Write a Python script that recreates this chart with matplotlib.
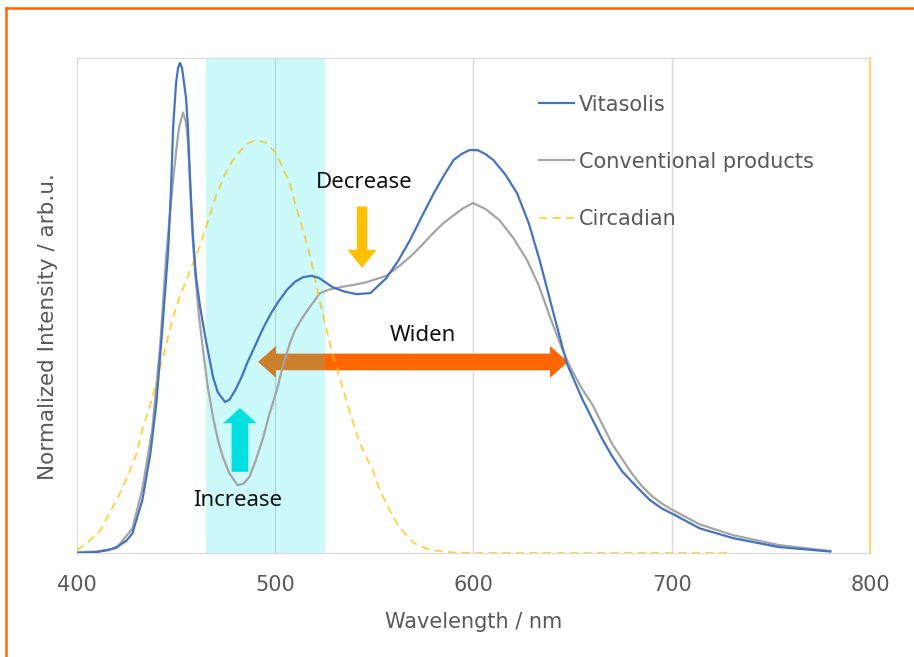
import matplotlib

matplotlib.use("Agg")

import matplotlib.pyplot as plt
from matplotlib.patches import FancyArrowPatch
from matplotlib.lines import Line2D

# spectra (normalized)
vita_nm = [400, 410, 416, 420, 425, 428, 433, 437, 440, 443, 446, 447.5, 448.5, 450,
           451, 452, 453, 454, 455, 456, 457, 458.5, 460, 462, 465, 468.6, 471, 474.7,
           477, 480, 483, 486, 490, 494, 498, 502, 506, 510, 514, 518, 522, 526,
           529, 535, 541, 548, 556, 562, 568, 574, 580, 585, 590, 594, 598, 602, 606,
           610, 616, 622, 628, 633.5, 640, 647, 655, 660, 665, 670, 675, 682, 689, 695,
           700, 714, 731, 754, 780]
vita_val = [0.0, 0.002, 0.006, 0.012, 0.025, 0.04, 0.107, 0.2, 0.3, 0.45, 0.61, 0.74,
            0.86, 0.95, 0.98, 0.99, 0.98, 0.95, 0.92, 0.86, 0.76, 0.64, 0.56, 0.5, 0.43,
            0.356, 0.325, 0.305, 0.31, 0.33, 0.355, 0.385, 0.42, 0.455, 0.485, 0.51,
            0.532, 0.548, 0.557, 0.56, 0.556, 0.545, 0.537, 0.528, 0.523, 0.525, 0.555,
            0.59, 0.632, 0.68, 0.727, 0.762, 0.794, 0.806, 0.814, 0.814, 0.806, 0.794,
            0.765, 0.727, 0.665, 0.59, 0.49, 0.384, 0.31, 0.27, 0.23, 0.195, 0.165,
            0.135, 0.107, 0.09, 0.08, 0.05, 0.03, 0.012, 0.003]

conv_nm = [400, 410, 420, 428, 433, 438, 442, 445, 448.4, 450, 451.5, 453.5, 455, 456,
           457, 458, 459.5, 461.5, 463.6, 466, 468.6, 471, 473.6, 477, 481, 484, 487,
           490, 494, 497, 500.9, 504, 507.4, 510, 514, 518, 522.6, 527, 532.7, 540, 546,
           556, 562, 568, 574, 579.6, 585, 591.6, 595, 599.8, 606, 613, 620, 627, 633,
           638.6, 644, 648.7, 655, 660, 665, 670, 675, 680, 685, 690, 695, 700, 714,
           731, 754, 780]
conv_val = [0.002, 0.003, 0.01, 0.05, 0.13, 0.25, 0.42, 0.6, 0.75, 0.81, 0.86, 0.89,
            0.87, 0.83, 0.75, 0.66, 0.57, 0.48, 0.41, 0.335, 0.275, 0.23, 0.194, 0.16,
            0.137, 0.14, 0.154, 0.185, 0.234, 0.28, 0.33, 0.38, 0.424, 0.45, 0.477, 0.50,
            0.525, 0.532, 0.537, 0.542, 0.547, 0.56, 0.578, 0.598, 0.622, 0.646, 0.667,
            0.687, 0.697, 0.707, 0.695, 0.673, 0.637, 0.592, 0.54, 0.477, 0.42, 0.376,
            0.33, 0.30, 0.26, 0.22, 0.19, 0.16, 0.135, 0.115, 0.1, 0.088, 0.058, 0.036,
            0.016, 0.004]

circ_nm = [400, 405, 412, 415, 420, 425, 430, 433, 437, 441, 445, 448, 452, 457, 462,
           466, 470, 474, 478, 482, 485, 490, 495, 500, 503, 507, 512, 517, 520, 523,
           526, 529, 532, 535, 538, 542, 545, 549, 552, 556, 560, 563, 570, 578, 590,
           600, 650, 700, 730]
circ_val = [0.006, 0.02, 0.046, 0.07, 0.107, 0.15, 0.2, 0.25, 0.3, 0.36, 0.42, 0.47,
            0.52, 0.57, 0.62, 0.67, 0.72, 0.76, 0.79, 0.81, 0.825, 0.834, 0.83, 0.81,
            0.785, 0.75, 0.68, 0.61, 0.555, 0.5, 0.45, 0.4, 0.36, 0.32, 0.28, 0.23,
            0.2, 0.17, 0.135, 0.1, 0.07, 0.05, 0.02, 0.006, 0.001, 0.0, 0.0, 0.0, 0.0]

series_labels = ["Vitasolis", "Conventional products", "Circadian"]
x_ticks = [400, 500, 600, 700, 800]
band = (465, 525)

TXT = "#595959"

fig = plt.figure(figsize=(9.14, 6.57), dpi=100)
ax = fig.add_axes([0.0842, 0.1583, 0.8676, 0.7534])

ax.axvspan(band[0], band[1], color="#00E5E5", alpha=0.2, lw=0, zorder=2)

ax.plot(vita_nm, vita_val, color="#4472C4", lw=1.6, label=series_labels[0], zorder=4)
ax.plot(conv_nm, conv_val, color="#A5A5A5", lw=1.6, label=series_labels[1], zorder=3)
ax.plot(circ_nm, circ_val, color="#FFC000", lw=1.3, ls=(0, (4.5, 3)), alpha=0.75,
        label=series_labels[2], zorder=3)

ax.set_xlim(400, 800)
ax.set_ylim(0, 1)
ax.set_xticks(x_ticks)
ax.set_yticks([])
ax.tick_params(axis="x", length=0, pad=16, labelsize=15, labelcolor=TXT)
for v in x_ticks[1:-1]:
    ax.axvline(v, color="#D9D9D9", lw=1, zorder=1)
for s in ["left", "top", "bottom"]:
    ax.spines[s].set_color("#D9D9D9")
ax.spines["right"].set_color("#FFD966")
ax.spines["right"].set_linewidth(1.5)

ax.set_xlabel("Wavelength / nm", fontsize=15, color=TXT, labelpad=12)
ax.set_ylabel("Normalized Intensity / arb.u.", fontsize=15.5, color=TXT)
ax.yaxis.set_label_coords(-0.024, 0.457)

leg = ax.legend(loc="upper left", bbox_to_anchor=(0.583, 0.926), frameon=False,
                fontsize=15, labelspacing=1.78, handlelength=1.68, handletextpad=0.24,
                borderpad=0, borderaxespad=0)
for t in leg.get_texts():
    t.set_color(TXT)


def block_arrow(x0, y0, x1, y1, color, tail, head_w, head_l):
    a = FancyArrowPatch((x0, y0), (x1, y1),
                        arrowstyle=f"simple,head_length={head_l},head_width={head_w},tail_width={tail}",
                        mutation_scale=1, color=color, lw=0, shrinkA=0, shrinkB=0, zorder=1)
    ax.add_patch(a)


# widen: two arrows pointing out from the middle, band drawn over the left part
block_arrow(570, 0.386, 491.3, 0.386, "#FF6600", 12, 23, 13)
block_arrow(570, 0.386, 647.7, 0.386, "#FF6600", 12, 23, 13)
# decrease
block_arrow(543.8, 0.70, 543.8, 0.576, "#FFC000", 7.5, 21, 13)
# increase
block_arrow(482.2, 0.164, 482.2, 0.293, "#00E0E0", 12, 24, 11)

ax.text(544.8, 0.749, "Decrease", fontsize=16, family="Noto Sans", ha="center",
        va="center", color="#111111", zorder=5)
ax.text(574.5, 0.44, "Widen", fontsize=16, family="Noto Sans", ha="center",
        va="center", color="#111111", zorder=5)
ax.text(481.2, 0.107, "Increase", fontsize=16, family="Noto Sans", ha="center",
        va="center", color="#111111", zorder=5)

# orange frame at the top and left of the picture
fig.add_artist(Line2D([6 / 914, 6 / 914], [0, 1 - 8 / 657], color="#FF6600", lw=1.8))
fig.add_artist(Line2D([6 / 914, 1], [1 - 8 / 657, 1 - 8 / 657], color="#FF6600", lw=1.8))

fig.savefig("out.png", dpi=100)
